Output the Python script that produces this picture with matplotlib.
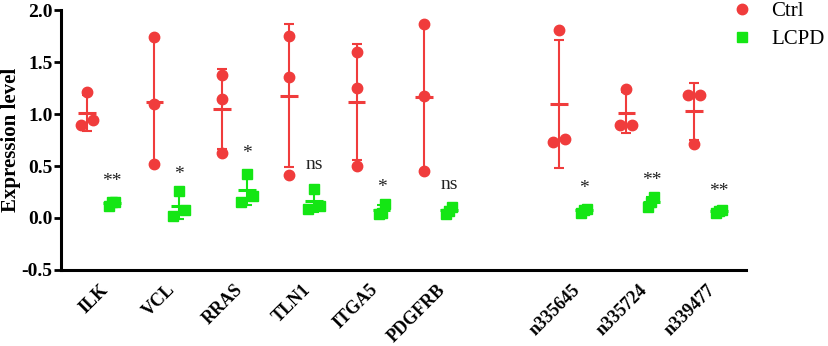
import numpy as np
import matplotlib
matplotlib.use("Agg")
import matplotlib.pyplot as plt

plt.rcParams["font.family"] = ["Liberation Serif", "DejaVu Serif"]

# ---- data ----
genes = ["ILK", "VCL", "RRAS", "TLN1", "ITGA5", "PDGFRB", "n335645", "n335724", "n339477"]
ctrl = [
    [1.21, 0.89, 0.94],
    [1.74, 1.10, 0.52],
    [1.38, 1.14, 0.625],
    [1.753, 1.359, 0.416],
    [1.592, 1.246, 0.503],
    [1.865, 1.169, 0.455],
    [1.81, 0.727, 0.763],
    [1.24, 0.897, 0.897],
    [1.186, 1.186, 0.711],
]
lcpd = [
    [0.12, 0.15, 0.15],
    [0.256, 0.015, 0.08],
    [0.426, 0.154, 0.214],
    [0.282, 0.089, 0.112],
    [0.13, 0.04, 0.05],
    [0.11, 0.04, 0.07],
    [0.09, 0.05, 0.08],
    [0.20, 0.11, 0.15],
    [0.08, 0.05, 0.07],
]
signif = ["**", "*", "*", "ns", "*", "ns", "*", "**", "**"]
signif_y = [0.35, 0.42, 0.62, 0.51, 0.29, 0.32, 0.28, 0.36, 0.25]

RED = "#F03C3C"
GREEN = "#14E614"


def spread(vals, thr=0.1, step=0.09):
    # horizontal offsets for overlapping dots (GraphPad-like scatter)
    vals = np.asarray(vals, float)
    order = np.argsort(vals, kind="stable")
    offs = np.zeros(len(vals))
    clusters = [[order[0]]]
    for i in order[1:]:
        if vals[i] - vals[clusters[-1][-1]] < thr:
            clusters[-1].append(i)
        else:
            clusters.append([i])
    for c in clusters:
        if len(c) == 2:
            offs[c] = [-step, step]
        elif len(c) == 3:
            offs[c] = [-step / 2, 0, step / 2]
    return offs


fig = plt.figure(figsize=(8.29, 3.46), dpi=100)
ax = fig.add_axes([0.0736, 0.2197, 0.8264, 0.7513])

n = len(genes)
idx = np.arange(n)
xpos = idx + (idx >= 6)  # empty slot between the genes and the circRNAs
d = 0.185

for i in range(n):
    for vals, dx, col, mk, ms in [(ctrl[i], -d, RED, "o", 7.5), (lcpd[i], d, GREEN, "s", 7.5)]:
        v = np.asarray(vals)
        x0 = xpos[i] + dx
        ax.plot(x0 + spread(v), v, ls="none", marker=mk, ms=ms, color=col,
                mec=col, zorder=3, clip_on=False)
        m, s = v.mean(), v.std(ddof=1)
        ax.errorbar([x0], [m], yerr=[s], fmt="none", ecolor=col, elinewidth=1.5,
                    capsize=3.5, capthick=1.5, zorder=4)
        ax.hlines(m, x0 - 0.13, x0 + 0.13, color=col, lw=2.2, zorder=4)
    ax.text(xpos[i] + d, signif_y[i], signif[i], ha="center", va="center",
            fontsize=14, color="#222222")

ax.set_xlim(-0.57, 9.59)
ax.set_ylim(-0.5, 2.0)
yt = np.arange(-0.5, 2.01, 0.5)
ax.set_yticks(yt)
ax.set_yticklabels([f"{t:.1f}" for t in yt], fontsize=14, fontweight="bold")
ax.set_xticks(xpos)
ax.set_xticklabels(genes, rotation=45, ha="right", rotation_mode="anchor",
                   fontsize=13, fontweight="bold")
ax.tick_params(axis="x", length=0, pad=8)
ax.tick_params(axis="y", length=5, width=2, pad=1)
ax.set_ylabel("Expression level", fontsize=15, fontweight="bold")
ax.yaxis.set_label_coords(-0.058, 0.5)

for side in ["top", "right"]:
    ax.spines[side].set_visible(False)
for side in ["left", "bottom"]:
    ax.spines[side].set_linewidth(2.2)

h1, = ax.plot([], [], ls="none", marker="o", ms=7.5, color=RED)
h2, = ax.plot([], [], ls="none", marker="s", ms=7.5, color=GREEN)
fig.legend([h1, h2], ["Ctrl", "LCPD"], loc="upper left",
           bbox_to_anchor=(0.8825, 0.995), frameon=False, fontsize=15,
           handlelength=1.0, handletextpad=0.9, borderpad=0, borderaxespad=0,
           labelspacing=0.4)

fig.savefig("out.png", dpi=100)
